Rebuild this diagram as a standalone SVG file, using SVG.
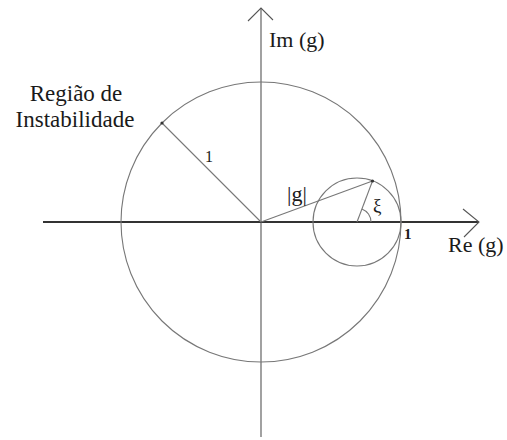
<svg xmlns="http://www.w3.org/2000/svg" width="507" height="440" viewBox="0 0 507 440">
<style>
.ln{fill:none;stroke:#777;stroke-width:1.1}
.ax{fill:none;stroke:#555;stroke-width:1.1}
.axh{fill:none;stroke:#333;stroke-width:1.8}
.t{font-family:"Liberation Serif","Times New Roman",serif;fill:#1a1a1a}
</style>
<rect width="507" height="440" fill="#fff"/>
<g id="connectors">
  <line id="im-axis" class="ax" x1="261" y1="437" x2="261" y2="8"/>
  <path class="ax" d="M248,21 L261,8 L273,20"/>
  <line id="re-axis" class="axh" x1="43" y1="222" x2="479" y2="222"/>
  <path class="ax" d="M463,209 L479,222 L464,237"/>
  <line id="radius" class="ln" x1="261" y1="222" x2="162" y2="123"/>
  <line id="g-vector" class="ln" x1="261" y1="222" x2="372.5" y2="181"/>
  <line id="xi-line" class="ln" x1="357" y1="222" x2="372.5" y2="181"/>
  <path id="xi-arc" class="ln" d="M371,222 A14,14 0 0 0 361.9,208.9"/>
</g>
<g id="unit-circle">
  <circle class="ln" cx="261" cy="222" r="140"/>
  <circle cx="162" cy="123" r="1.6" fill="#333"/>
</g>
<g id="small-circle">
  <circle class="ln" cx="357" cy="222" r="44"/>
  <circle cx="372.5" cy="181" r="1.6" fill="#333"/>
</g>
<g id="labels">
  <text class="t" x="269" y="47" font-size="22">Im (g)</text>
  <text class="t" x="448" y="252" font-size="22">Re (g)</text>
  <text class="t" x="76" y="101" font-size="23" text-anchor="middle">Região de</text>
  <text class="t" x="75" y="127" font-size="23" text-anchor="middle">Instabilidade</text>
  <text class="t" x="205" y="162" font-size="16">1</text>
  <text class="t" x="287" y="201" font-size="22">|g|</text>
  <text class="t" x="373" y="212" font-size="19">ξ</text>
  <text class="t" x="404" y="239" font-size="15" font-weight="bold">1</text>
</g>
</svg>
